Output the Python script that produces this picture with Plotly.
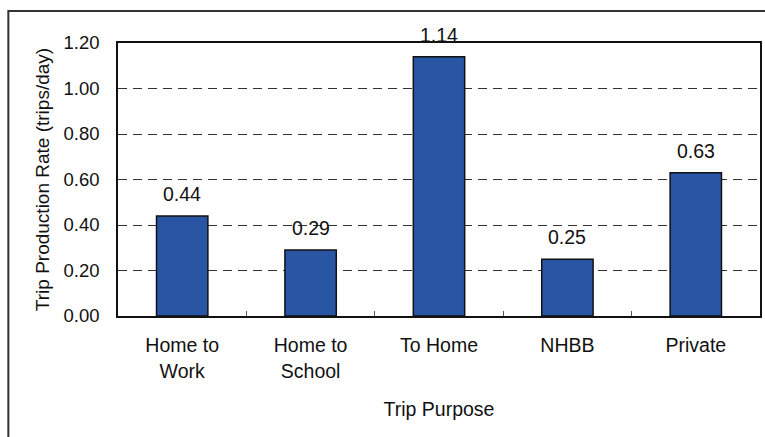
import plotly.graph_objects as go

categories = ["Home to<br>Work", "Home to<br>School", "To Home", "NHBB", "Private"]
rates = [0.44, 0.29, 1.14, 0.25, 0.63]
y_ticks = [0.0, 0.2, 0.4, 0.6, 0.8, 1.0, 1.2]
y_tick_labels = ["0.00", "0.20", "0.40", "0.60", "0.80", "1.00", "1.20"]

FONT = "Liberation Sans, Arial, sans-serif"

fig = go.Figure()
fig.add_trace(go.Bar(
    x=categories, y=rates, width=0.4,
    marker=dict(color="#2856A4", line=dict(color="#111111", width=1.5)),
    hoverinfo="x+y",
))

for c, v in zip(categories, rates):
    fig.add_annotation(x=c, y=v, text=f"{v:.2f}", showarrow=False,
                       yanchor="bottom", yshift=9,
                       font=dict(family=FONT, size=19.5, color="#111111"))

W, H = 765, 437
L, R, T, B = 118, 3, 43, 121
pw, ph = W - L - R, H - T - B
# outer chart border (pixel positions converted to paper coordinates)
fig.add_shape(type="rect", xref="paper", yref="paper",
              x0=(8 - L) / pw, x1=(W + 5 - L) / pw,
              y0=(H - B - (H + 5)) / ph, y1=(H - B - 11) / ph,
              line=dict(color="#333333", width=2), layer="below")

fig.update_layout(
    width=W, height=H,
    margin=dict(l=L, r=R, t=T, b=B),
    paper_bgcolor="white", plot_bgcolor="white",
    font=dict(family=FONT, size=18.5, color="#111111"),
    showlegend=False,
    bargap=0.6,
    xaxis=dict(
        showline=True, linecolor="#111111", linewidth=1.5, mirror=True,
        ticks="inside", ticklen=5, tickcolor="#555555", tickson="boundaries",
        showgrid=False,
        tickfont=dict(size=19.5),
        title=dict(text="Trip Purpose", font=dict(size=19.5), standoff=22),
        ticklabelstandoff=11,
    ),
    yaxis=dict(
        range=[0, 1.2], tickvals=y_ticks, ticktext=y_tick_labels,
        showline=True, linecolor="#111111", linewidth=1.5, mirror=True,
        ticks="", showgrid=True, gridcolor="#333333", gridwidth=1,
        griddash="9px,6px",
        zeroline=False,
        ticklabelstandoff=13,
        tickfont=dict(size=18.5),
        title=dict(text="Trip Production Rate (trips/day)", font=dict(size=19), standoff=9),
    ),
)

fig.write_html("out.html")
